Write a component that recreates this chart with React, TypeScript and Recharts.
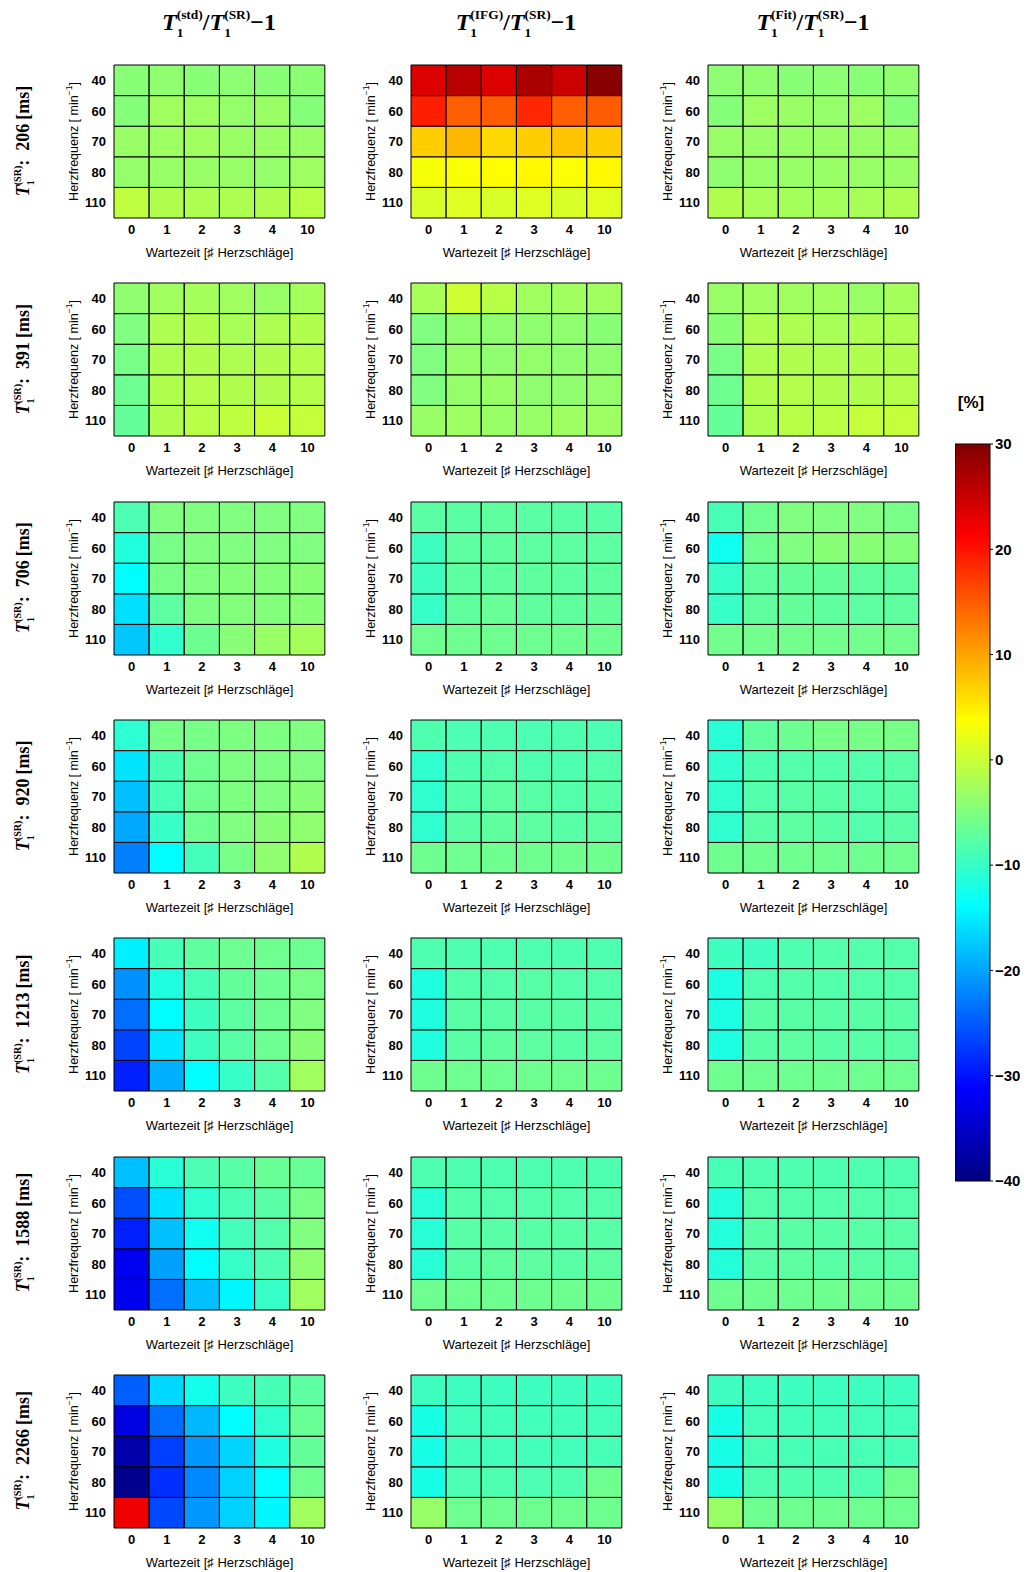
import { Bar, BarChart, Cell, XAxis, YAxis } from "recharts";

// Axis categories
const waitTimes = ["0", "1", "2", "3", "4", "10"];
const heartRates = [40, 60, 70, 80, 110]; // top row first
const t1Values = [206, 391, 706, 920, 1213, 1588, 2266];
const methods = ["std", "IFG", "Fit"];

// Colour scale [%]
const CB_MIN = -40;
const CB_MAX = 30;
const colorbarTicks = [30, 20, 10, 0, -10, -20, -30, -40];

// Relative deviation [%], rows = heart rate (40..110), cols = waiting time (0..10)
const std206 = [
  [-4.4, -3.9, -4.4, -4.1, -4.4, -4.2],
  [-4.6, -2.8, -3.0, -3.6, -3.2, -4.6],
  [-3.3, -3.0, -2.8, -3.2, -3.2, -3.3],
  [-3.6, -3.3, -3.3, -3.3, -3.6, -3.0],
  [-0.6, -1.7, -1.8, -1.9, -1.7, -1.1],
];
const ifg206 = [
  [23.6, 25.9, 23.6, 27.1, 24.7, 29.4],
  [19.1, 14.7, 15.0, 18.5, 14.7, 15.0],
  [7.2, 8.6, 6.4, 7.2, 7.9, 7.2],
  [3.2, 3.4, 3.8, 4.2, 3.4, 4.2],
  [1.1, 1.5, 1.1, 1.5, 1.1, 1.6],
];
const fit206 = [
  [-4.1, -3.9, -4.4, -4.1, -4.4, -3.9],
  [-4.6, -3.0, -3.2, -3.6, -3.0, -4.6],
  [-3.3, -3.3, -3.3, -3.3, -3.3, -3.3],
  [-3.9, -3.3, -3.3, -3.3, -3.3, -3.3],
  [-1.7, -2.2, -2.5, -2.5, -2.2, -1.9],
];

const std391 = [
  [-3.9, -2.8, -2.5, -2.8, -3.3, -2.5],
  [-5.0, -1.9, -1.7, -2.2, -1.9, -1.7],
  [-5.6, -1.9, -1.7, -1.9, -1.7, -1.4],
  [-6.3, -1.7, -1.4, -1.7, -1.7, -1.4],
  [-6.8, -1.7, -1.1, -0.6, 0.0, -0.3],
];
const ifg391 = [
  [-2.2, 0.3, -1.1, -2.8, -2.8, -2.8],
  [-5.0, -3.9, -3.9, -3.9, -3.9, -4.4],
  [-5.0, -3.6, -3.9, -3.6, -3.9, -3.9],
  [-5.0, -3.6, -3.3, -3.9, -3.9, -3.6],
  [-3.3, -3.0, -3.3, -3.3, -3.0, -3.0],
];
const fit391 = [
  [-3.3, -2.8, -2.8, -2.8, -3.3, -2.5],
  [-4.4, -1.9, -1.9, -2.2, -1.9, -1.9],
  [-5.5, -1.9, -1.7, -1.9, -1.7, -1.7],
  [-6.1, -1.7, -1.4, -1.7, -1.7, -1.4],
  [-6.8, -1.9, -1.1, -0.9, -0.3, -0.3],
];

const std706 = [
  [-8.5, -5.0, -5.0, -5.0, -5.0, -5.0],
  [-11.4, -5.5, -5.0, -5.0, -5.0, -5.0],
  [-13.8, -5.5, -5.0, -4.7, -4.7, -4.4],
  [-15.9, -7.4, -5.2, -4.7, -4.7, -4.4],
  [-17.5, -10.3, -6.3, -4.4, -3.3, -2.5],
];
const ifg706 = [
  [-7.6, -7.6, -7.2, -7.6, -7.7, -7.7],
  [-9.4, -7.4, -7.2, -7.4, -7.4, -7.4],
  [-9.4, -7.4, -7.2, -7.2, -7.4, -7.2],
  [-9.9, -7.2, -6.6, -7.2, -7.2, -6.9],
  [-6.1, -6.1, -6.1, -6.1, -6.1, -6.1],
];
const fit706 = [
  [-8.8, -6.1, -5.0, -5.0, -5.0, -5.5],
  [-12.7, -6.1, -5.0, -4.4, -4.4, -4.7],
  [-9.9, -7.2, -6.9, -6.9, -7.2, -7.2],
  [-9.9, -7.2, -6.9, -7.2, -7.4, -7.2],
  [-5.9, -5.9, -5.9, -5.9, -5.9, -5.9],
];

const std920 = [
  [-10.7, -5.5, -5.5, -5.2, -5.2, -5.0],
  [-15.6, -8.8, -6.1, -5.2, -5.2, -5.0],
  [-18.1, -8.8, -6.1, -5.2, -5.0, -4.4],
  [-19.7, -9.9, -6.1, -5.0, -4.4, -3.9],
  [-22.5, -13.8, -9.1, -5.5, -3.9, -1.7],
];
const ifg920 = [
  [-8.3, -8.5, -8.3, -8.5, -8.3, -8.5],
  [-10.5, -8.3, -8.0, -8.3, -8.3, -8.0],
  [-10.5, -8.0, -7.4, -7.7, -8.0, -7.7],
  [-10.5, -7.7, -7.2, -7.4, -7.7, -7.4],
  [-6.1, -6.1, -6.1, -6.1, -6.1, -6.1],
];
const fit920 = [
  [-11.0, -7.2, -6.3, -5.5, -5.5, -5.5],
  [-10.5, -8.3, -8.0, -8.0, -8.0, -7.7],
  [-10.5, -8.0, -7.7, -7.7, -8.0, -7.7],
  [-10.5, -7.7, -7.4, -7.7, -8.0, -7.7],
  [-6.1, -6.1, -6.1, -6.1, -6.1, -6.1],
];

const std1213 = [
  [-14.8, -8.8, -7.2, -6.3, -6.1, -6.3],
  [-21.4, -11.6, -8.8, -6.9, -6.3, -5.5],
  [-23.6, -13.8, -9.4, -7.4, -6.3, -5.0],
  [-26.6, -15.3, -9.4, -7.7, -6.3, -4.4],
  [-29.1, -19.2, -13.8, -9.9, -8.0, -2.8],
];
const ifg1213 = [
  [-8.3, -8.3, -8.3, -8.3, -8.3, -8.3],
  [-11.6, -8.0, -8.0, -7.7, -8.0, -8.0],
  [-11.6, -7.7, -7.7, -7.7, -7.7, -7.7],
  [-11.6, -7.7, -7.2, -7.4, -7.7, -7.4],
  [-6.1, -6.1, -6.1, -6.1, -6.1, -6.1],
];
const fit1213 = [
  [-9.4, -9.4, -8.3, -8.0, -8.0, -8.0],
  [-11.8, -8.3, -8.0, -8.0, -8.0, -8.0],
  [-11.8, -7.7, -7.7, -7.7, -7.7, -7.7],
  [-11.8, -7.7, -7.4, -7.7, -7.7, -7.7],
  [-6.1, -6.1, -6.1, -6.1, -6.1, -6.1],
];

const std1588 = [
  [-18.1, -11.0, -8.5, -7.7, -6.6, -6.6],
  [-25.8, -15.9, -10.5, -8.8, -7.7, -5.5],
  [-29.1, -18.1, -12.7, -9.1, -8.0, -5.0],
  [-32.3, -20.3, -13.8, -9.9, -8.5, -3.9],
  [-32.4, -23.6, -18.1, -14.3, -9.9, -2.8],
];
const ifg1588 = [
  [-8.3, -8.3, -8.3, -8.3, -8.3, -8.3],
  [-11.0, -8.0, -8.0, -8.0, -8.0, -8.0],
  [-11.0, -7.7, -7.7, -7.7, -7.7, -7.7],
  [-11.0, -7.7, -7.2, -7.4, -7.7, -7.4],
  [-6.1, -6.1, -6.1, -6.1, -6.1, -6.1],
];
const fit1588 = [
  [-8.8, -8.3, -8.3, -8.3, -8.3, -8.3],
  [-11.3, -8.0, -8.0, -8.0, -8.0, -8.0],
  [-11.3, -7.7, -7.7, -7.7, -7.7, -7.7],
  [-11.3, -7.7, -7.4, -7.7, -7.7, -7.7],
  [-6.1, -6.1, -6.1, -6.1, -6.1, -6.1],
];

const std2266 = [
  [-24.7, -16.4, -12.4, -9.4, -8.8, -7.4],
  [-33.4, -23.6, -18.6, -13.8, -10.5, -6.6],
  [-37.1, -26.9, -20.8, -16.7, -11.6, -6.9],
  [-39.1, -28.0, -21.9, -16.9, -13.8, -6.1],
  [22.3, -26.3, -20.8, -16.9, -14.3, -2.8],
];
const ifg2266 = [
  [-9.4, -9.4, -9.4, -9.4, -9.4, -9.4],
  [-12.1, -9.2, -9.2, -9.2, -9.2, -9.1],
  [-12.1, -9.1, -9.1, -9.1, -9.1, -8.8],
  [-12.1, -8.5, -8.3, -8.5, -8.3, -6.1],
  [-3.3, -6.1, -6.1, -6.1, -6.1, -6.1],
];
const fit2266 = [
  [-9.4, -9.4, -9.4, -9.4, -9.4, -9.4],
  [-12.1, -9.1, -9.1, -9.1, -9.1, -9.1],
  [-12.1, -8.8, -8.8, -8.8, -8.8, -8.8],
  [-12.1, -8.3, -8.3, -8.3, -8.3, -6.1],
  [-3.3, -6.1, -6.1, -6.1, -6.1, -6.1],
];

// one row per T1 value, one entry per method
const panelGrid = [
  [std206, ifg206, fit206],
  [std391, ifg391, fit391],
  [std706, ifg706, fit706],
  [std920, ifg920, fit920],
  [std1213, ifg1213, fit1213],
  [std1588, ifg1588, fit1588],
  [std2266, ifg2266, fit2266],
];

const SANS = '"Liberation Sans", Arial, Helvetica, sans-serif';
const SERIF = '"Liberation Serif", "Times New Roman", serif';

// plot-area origins of the grid (page px)
const COL_X = [114, 411, 708];
const ROW_Y0 = 65;
const ROW_STEP = 218.3;

const clamp01 = (x: number) => Math.max(0, Math.min(1, x));

// classic "jet" map over [CB_MIN, CB_MAX]
function jet(v: number) {
  const t = clamp01((v - CB_MIN) / (CB_MAX - CB_MIN));
  const r = clamp01(Math.min(4 * t - 1.5, -4 * t + 4.5));
  const g = clamp01(Math.min(4 * t - 0.5, -4 * t + 3.5));
  const b = clamp01(Math.min(4 * t + 0.5, -4 * t + 2.5));
  const h = (x: number) => Math.round(x * 255).toString(16).padStart(2, "0");
  return `#${h(r)}${h(g)}${h(b)}`;
}

// every cell is one unit tall, so the stack fills the 5 heart-rate rows
const cellRows = waitTimes.map((w) => ({
  w,
  ...Object.fromEntries(heartRates.map((h) => [`h${h}`, 1])),
}));

const tickStyle = { fontSize: 13, fontWeight: 700, fill: "#000", fontFamily: SANS };

function YAxisTitle(props: any) {
  const vb = props.viewBox;
  const cx = vb.x + vb.width - 40;
  const cy = vb.y + vb.height / 2;
  return (
    <text
      x={cx}
      y={cy}
      transform={`rotate(-90 ${cx} ${cy})`}
      textAnchor="middle"
      dominantBaseline="central"
      fontFamily={SANS}
      fontSize={12.5}
      fill="#000"
    >
      Herzfrequenz [ min
      <tspan dy={-5} fontSize={8.5}>
        −1
      </tspan>
      <tspan dy={5}>]</tspan>
    </text>
  );
}

function HeatPanel({ values, left, top }: { values: number[][]; left: number; top: number }) {
  // stacked from the bottom: 110 first, 40 last
  const bottomUp = [...heartRates].reverse();
  return (
    <div style={{ position: "absolute", left: left - 80, top: top - 5 }}>
      <BarChart
        width={300}
        height={203}
        data={cellRows}
        margin={{ top: 5, right: 9, bottom: 0, left: 0 }}
        barCategoryGap={0}
        barGap={0}
      >
        <XAxis
          dataKey="w"
          type="category"
          interval={0}
          axisLine={false}
          tickLine={false}
          tickSize={0}
          tickMargin={7}
          height={45}
          tick={tickStyle}
          label={{
            value: "Wartezeit [♯ Herzschläge]",
            position: "insideBottom",
            offset: 6,
            fontSize: 13,
            fill: "#000",
            fontFamily: SANS,
          }}
        />
        <YAxis
          type="number"
          domain={[0, heartRates.length]}
          ticks={heartRates.map((_, i) => i + 0.5)}
          tickFormatter={(v: number) => String(heartRates[heartRates.length - 1 - Math.floor(v)])}
          interval={0}
          width={80}
          axisLine={false}
          tickLine={false}
          tickSize={0}
          tickMargin={8}
          tick={tickStyle}
          label={{ content: YAxisTitle }}
        />
        {bottomUp.map((h) => {
          const ri = heartRates.indexOf(h);
          return (
            <Bar key={h} dataKey={`h${h}`} stackId="grid" isAnimationActive={false}>
              {waitTimes.map((w, c) => (
                <Cell key={w} fill={jet(values[ri][c])} stroke="#000" strokeWidth={1} />
              ))}
            </Bar>
          );
        })}
      </BarChart>
    </div>
  );
}

function ColorBar() {
  const data = [{ name: "%", range: [CB_MIN, CB_MAX] }];
  const stops = [
    [0, "#000080"],
    [0.125, "#0000ff"],
    [0.375, "#00ffff"],
    [0.625, "#ffff00"],
    [0.875, "#ff0000"],
    [1, "#800000"],
  ];
  return (
    <div style={{ position: "absolute", left: 955, top: 434 }}>
      <BarChart
        width={73}
        height={757}
        data={data}
        margin={{ top: 10, right: 0, bottom: 10, left: 0 }}
        barCategoryGap={0}
      >
        <defs>
          <linearGradient id="jetGrad" x1="0" y1="1" x2="0" y2="0">
            {stops.map(([o, c]) => (
              <stop key={String(o)} offset={o as number} stopColor={c as string} />
            ))}
          </linearGradient>
        </defs>
        <XAxis dataKey="name" hide />
        <YAxis
          type="number"
          orientation="right"
          domain={[CB_MIN, CB_MAX]}
          ticks={colorbarTicks}
          interval={0}
          width={38}
          axisLine={false}
          tickSize={3}
          tickMargin={2}
          tickLine={{ stroke: "#000" }}
          tickFormatter={(v: number) => (v < 0 ? `−${Math.abs(v)}` : String(v))}
          tick={{ fontSize: 15, fontWeight: 700, fill: "#000", fontFamily: SANS }}
        />
        <Bar dataKey="range" fill="url(#jetGrad)" stroke="#000" strokeWidth={1} isAnimationActive={false} />
      </BarChart>
    </div>
  );
}

// T with subscript 1 and a stacked superscript; leaves the baseline raised by
// size * 0.44, so the next tspan must carry dy = size * 0.44
function tSymbol(sup: string, size: number, key: string) {
  const small = size * 0.56;
  return [
    <tspan key={key + "T"} fontStyle="italic">
      T
    </tspan>,
    <tspan key={key + "s"} fontSize={small} dy={size * 0.28}>
      1
    </tspan>,
    <tspan key={key + "p"} fontSize={small} dx={-small * 0.5} dy={-size * 0.72}>
      ({sup})
    </tspan>,
  ];
}

function Overlay() {
  const ts = 24;
  const rs = 18;
  return (
    <svg
      width={1028}
      height={1572}
      style={{ position: "absolute", left: 0, top: 0, pointerEvents: "none" }}
    >
      {methods.map((m, i) => (
        <text
          key={m}
          x={COL_X[i] + 105}
          y={30}
          textAnchor="middle"
          fontFamily={SERIF}
          fontWeight={700}
          fontSize={ts}
          fill="#000"
        >
          {tSymbol(m, ts, m + "a")}
          <tspan dy={ts * 0.44}>/</tspan>
          {tSymbol("SR", ts, m + "b")}
          <tspan dy={ts * 0.44}>−1</tspan>
        </text>
      ))}
      {t1Values.map((t1, i) => {
        const cx = 29;
        const cy = ROW_Y0 + i * ROW_STEP + 76;
        return (
          <text
            key={t1}
            x={cx}
            y={cy}
            transform={`rotate(-90 ${cx} ${cy})`}
            textAnchor="middle"
            fontFamily={SERIF}
            fontWeight={700}
            fontSize={rs}
            fill="#000"
          >
            {tSymbol("SR", rs, "r" + t1)}
            <tspan dy={rs * 0.44}>:</tspan>
            <tspan dx={9}>{t1}</tspan>
            <tspan dx={4}>[ms]</tspan>
          </text>
        );
      })}
      <text
        x={971}
        y={408}
        textAnchor="middle"
        fontFamily={SANS}
        fontWeight={700}
        fontSize={17}
        fill="#000"
      >
        [%]
      </text>
    </svg>
  );
}

export default function App() {
  return (
    <div
      style={{
        position: "absolute",
        left: 0,
        top: 0,
        width: 1028,
        height: 1572,
        background: "#fff",
        fontFamily: SANS,
      }}
    >
      {panelGrid.map((row, ri) =>
        row.map((values, ci) => (
          <HeatPanel
            key={`${ri}-${ci}`}
            values={values}
            left={COL_X[ci]}
            top={ROW_Y0 + ri * ROW_STEP}
          />
        )),
      )}
      <ColorBar />
      <Overlay />
    </div>
  );
}
